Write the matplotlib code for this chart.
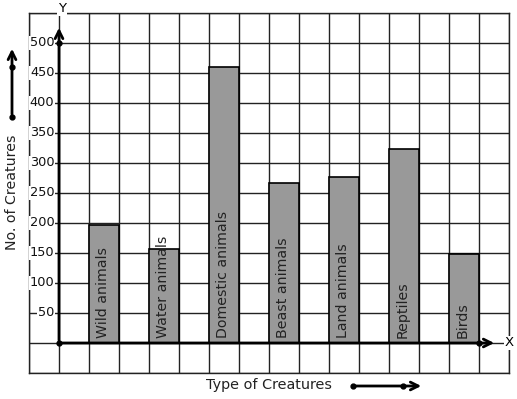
import matplotlib
matplotlib.use('Agg')
import matplotlib.pyplot as plt
import numpy as np

categories = ['Wild animals', 'Water animals', 'Domestic animals', 'Beast animals',
              'Land animals', 'Reptiles', 'Birds']
values = [196, 156, 460, 266, 276, 323, 148]
ytick_values = [50, 100, 150, 200, 250, 300, 350, 400, 450, 500]

W, H = 517, 399
fig = plt.figure(figsize=(W / 100, H / 100), dpi=100)

# grid area in pixels: x 29..509, y 13..373
ax = fig.add_axes([29 / W, (H - 373) / H, 480 / W, 360 / H])
ax.set_xlim(-1, 15)
ax.set_ylim(-50, 550)
ax.set_xticks(np.arange(-1, 16, 1))
ax.set_yticks(np.arange(-50, 551, 50))
ax.grid(True, color='#222222', lw=1.0)
ax.tick_params(length=0, labelbottom=False, labelleft=False)
ax.set_axisbelow(True)
for s in ax.spines.values():
    s.set_linewidth(1.0)
    s.set_color('#222222')

xpos = np.arange(len(categories)) * 2 + 1.5
ax.bar(xpos, values, width=1, color='#999999', edgecolor='black', lw=1.2, zorder=3)

for x, name in zip(xpos, categories):
    ax.text(x - 0.03, 8, name, rotation=90, ha='center', va='bottom', fontsize=10.2,
            color='#222222', zorder=5)

for v in ytick_values:
    ax.text(-0.15, v, str(v), ha='right', va='center', fontsize=9.3, color='#111111',
            bbox=dict(facecolor='white', edgecolor='none', pad=0.5), zorder=5, clip_on=False)

# axes with arrows
ax.annotate('', xy=(0, 530), xytext=(0, 0),
            arrowprops=dict(arrowstyle='->', lw=2, color='black', mutation_scale=14),
            zorder=6, annotation_clip=False)
ax.annotate('', xy=(14.6, 0), xytext=(0, 0),
            arrowprops=dict(arrowstyle='->', lw=2, color='black', mutation_scale=14),
            zorder=6, annotation_clip=False)
ax.plot([0, 0, 14], [500, 0, 0], 'o', color='black', ms=3.5, zorder=7, clip_on=False)
ax.text(0.1, 557, 'Y', ha='center', va='center', fontsize=9.5,
        bbox=dict(facecolor='white', edgecolor='none', pad=0.5), clip_on=False)
ax.text(15.0, 0, 'X', ha='center', va='center', fontsize=9.5,
        bbox=dict(facecolor='white', edgecolor='none', pad=0.5), clip_on=False)

# axis titles with decorative arrows
fig.text(12 / W, 1 - 192 / H, 'No. of Creatures', rotation=90, ha='center', va='center',
         fontsize=10.2, color='#222222')
fig.text(269 / W, 1 - 385 / H, 'Type of Creatures', ha='center', va='center',
         fontsize=10.4, color='#222222')

ax2 = fig.add_axes([0, 0, 1, 1], facecolor='none')
ax2.set_xlim(0, W)
ax2.set_ylim(H, 0)
ax2.axis('off')
ax2.annotate('', xy=(12, 46), xytext=(12, 117),
             arrowprops=dict(arrowstyle='->', lw=2, color='black', mutation_scale=14))
ax2.plot([12, 12], [117, 67], 'o', color='black', ms=3.5)
ax2.annotate('', xy=(424, 386), xytext=(353, 386),
             arrowprops=dict(arrowstyle='->', lw=2, color='black', mutation_scale=14))
ax2.plot([353, 403], [386, 386], 'o', color='black', ms=3.5)

plt.savefig('out.png', dpi=100)
